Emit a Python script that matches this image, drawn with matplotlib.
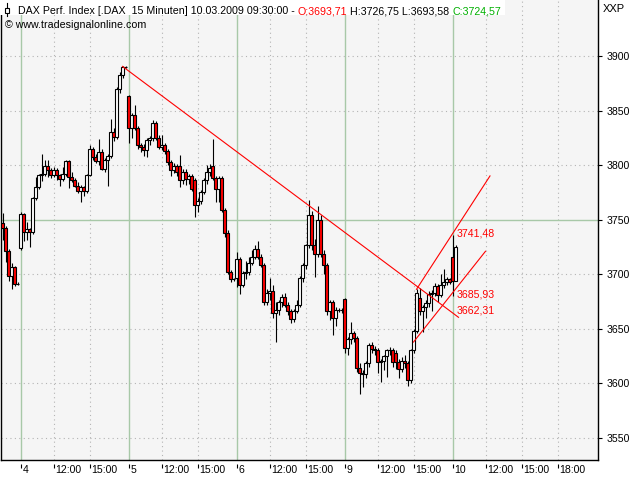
import numpy as np
import matplotlib
matplotlib.use("Agg")
import matplotlib.pyplot as plt
from matplotlib.lines import Line2D
from matplotlib.patches import Rectangle
from matplotlib.text import Annotation
from matplotlib.transforms import blended_transform_factory, offset_copy

plt.rcParams['font.family'] = ['Liberation Sans', 'DejaVu Sans']

# 15 minute candles, 36 slots per trading day, bar 0 = 04.03 09:15
first_bar = -6
opens = [3747, 3742, 3721, 3698, 3706, 3691,
         # day 4
         3724, 3755, 3739, 3741, 3739, 3770, 3780, 3791, 3792, 3799, 3795, 3791,
         3795, 3791, 3787, 3792, 3804, 3789, 3786, 3781, 3776, 3780, 3776, 3791,
         3815, 3807, 3804, 3812, 3796, 3805, 3808, 3830, 3826, 3870, 3883, 3890,
         # day 5
         3863, 3834, 3846, 3834, 3818, 3817, 3814, 3823, 3825, 3839, 3825, 3817,
         3818, 3813, 3803, 3795, 3799, 3799, 3786, 3794, 3787, 3790, 3786, 3763,
         3767, 3775, 3786, 3794, 3799, 3788, 3778, 3788, 3759, 3738, 3702, 3695,
         # day 6
         3696, 3714, 3690, 3701, 3702, 3710, 3716, 3723, 3716, 3708, 3674, 3683,
         3684, 3664, 3667, 3674, 3679, 3672, 3666, 3659, 3666, 3672, 3696, 3708,
         3727, 3754, 3727, 3718, 3750, 3718, 3708, 3666, 3674, 3660, 3667, 3667,
         # day 9
         3677, 3632, 3640, 3646, 3641, 3614, 3609, 3608, 3618, 3635, 3631, 3630,
         3619, 3620, 3625, 3630, 3630, 3628, 3619, 3613, 3620, 3618, 3603, 3630,
         3648, 3678, 3666, 3670, 3673, 3682, 3683, 3689, 3681, 3690, 3693, 3695,
         # day 10
         3716, 3693.71]
highs = [3756, 3744, 3723, 3710, 3707, 3693,
         3757, 3756, 3748, 3742, 3771, 3789, 3792, 3810, 3805, 3805, 3797, 3798,
         3797, 3792, 3798, 3805, 3805, 3794, 3788, 3784, 3782, 3781, 3792, 3818,
         3817, 3810, 3824, 3815, 3806, 3810, 3842, 3834, 3872, 3885, 3891, 3891,
         3864, 3848, 3855, 3836, 3820, 3819, 3825, 3827, 3841, 3840, 3828, 3828,
         3820, 3815, 3805, 3802, 3801, 3809, 3796, 3796, 3792, 3792, 3788, 3770,
         3777, 3788, 3800, 3801, 3824, 3790, 3790, 3790, 3761, 3740, 3704, 3696,
         3720, 3716, 3703, 3712, 3716, 3722, 3727, 3730, 3718, 3710, 3686, 3696,
         3690, 3674, 3676, 3682, 3683, 3674, 3668, 3668, 3676, 3698, 3710, 3728,
         3768, 3758, 3732, 3762, 3754, 3722, 3710, 3676, 3676, 3670, 3669, 3669,
         3678, 3642, 3656, 3648, 3643, 3618, 3612, 3620, 3637, 3638, 3634, 3632,
         3622, 3626, 3631, 3633, 3632, 3630, 3622, 3624, 3626, 3620, 3631, 3650,
         3686, 3687, 3672, 3676, 3684, 3685, 3692, 3691, 3700, 3705, 3697, 3696,
         3736, 3726.75]
lows = [3731, 3711, 3694, 3686, 3689, 3690,
        3722, 3730, 3731, 3725, 3737, 3768, 3778, 3785, 3790, 3789, 3788, 3789,
        3786, 3781, 3785, 3790, 3779, 3784, 3780, 3774, 3766, 3772, 3774, 3790,
        3805, 3802, 3800, 3795, 3794, 3781, 3806, 3822, 3824, 3866, 3880, 3889,
        3820, 3825, 3832, 3815, 3812, 3808, 3807, 3818, 3822, 3823, 3815, 3814,
        3810, 3800, 3790, 3793, 3790, 3780, 3783, 3782, 3783, 3776, 3752, 3757,
        3764, 3773, 3783, 3790, 3786, 3766, 3766, 3757, 3734, 3700, 3693, 3694,
        3688, 3682, 3688, 3695, 3699, 3708, 3714, 3714, 3706, 3672, 3672, 3676,
        3660, 3638, 3662, 3670, 3670, 3662, 3655, 3656, 3664, 3670, 3693, 3705,
        3724, 3722, 3697, 3716, 3716, 3700, 3662, 3658, 3644, 3652, 3665, 3664,
        3628, 3626, 3636, 3638, 3610, 3590, 3596, 3605, 3615, 3628, 3626, 3609,
        3601, 3612, 3606, 3626, 3615, 3613, 3605, 3610, 3614, 3597, 3600, 3628,
        3646, 3662, 3647, 3660, 3670, 3666, 3680, 3674, 3679, 3687, 3690, 3691,
        3680, 3693.58]
closes = [3742, 3721, 3698, 3706, 3691, 3691,
          3755, 3739, 3741, 3739, 3770, 3780, 3791, 3792, 3799, 3795, 3791, 3795,
          3791, 3787, 3792, 3804, 3789, 3786, 3781, 3776, 3780, 3776, 3791, 3815,
          3807, 3804, 3812, 3796, 3805, 3808, 3830, 3826, 3870, 3883, 3890, 3890,
          3834, 3846, 3834, 3818, 3817, 3814, 3823, 3825, 3839, 3825, 3817, 3818,
          3813, 3803, 3795, 3799, 3794, 3786, 3794, 3787, 3790, 3778, 3763, 3767,
          3775, 3786, 3794, 3797, 3788, 3778, 3788, 3759, 3738, 3702, 3695, 3695,
          3714, 3690, 3701, 3702, 3710, 3716, 3723, 3716, 3708, 3674, 3683, 3684,
          3664, 3667, 3674, 3679, 3672, 3666, 3659, 3666, 3672, 3696, 3708, 3727,
          3754, 3727, 3718, 3750, 3718, 3708, 3666, 3674, 3660, 3667, 3667, 3667,
          3632, 3640, 3646, 3641, 3614, 3609, 3608, 3618, 3635, 3631, 3630, 3619,
          3620, 3625, 3630, 3630, 3619, 3619, 3613, 3620, 3618, 3603, 3630, 3648,
          3683, 3666, 3670, 3673, 3682, 3683, 3689, 3681, 3690, 3693, 3695, 3693,
          3693.7, 3724.57]

# time axis labels (bar positions of day starts / hours)
tick_bars = [0, 11, 23, 36, 47, 59, 72, 83, 95, 108, 119, 131, 144, 155, 167, 179]
tick_labels = ['4', '12:00', '15:00', '5', '12:00', '15:00', '6', '12:00', '15:00',
               '9', '12:00', '15:00', '10', '12:00', '15:00', '18:00']
day_bars = [0, 36, 72, 108, 144]
price_ticks = [3550, 3600, 3650, 3700, 3750, 3800, 3850, 3900]

# drawn trendlines (bar, price)
down_x, down_y = [34, 146], [3890.5, 3660.3]
upper_x, upper_y = [132, 156.5], [3686, 3790]
lower_x, lower_y = [131, 155], [3637.6, 3720.9]
line_values = ['3741,48', '3685,93', '3662,31']
line_value_y = [3741.48, 3685.93, 3662.31]

green = '#a8c8a8'
dotc = '#b4b4b4'

fig = plt.figure(figsize=(6.4, 4.8), dpi=100)
ax = fig.add_axes([1 / 640, 20 / 480, 597 / 640, 460 / 480])
ax.set_facecolor('#f5f5f5')
ax.set_xlim(-6.5, 192.5)
ax.set_ylim(3529.4, 3951.4)

# grid
for b in tick_bars:
    if b in day_bars:
        ax.axvline(b, color=green, lw=1.0, zorder=1)
    else:
        ax.axvline(b, color=dotc, lw=0.8, ls=(0, (1, 3)), zorder=1)
for p in price_ticks:
    if p == 3750:
        ax.axhline(p, color=green, lw=1.0, zorder=1)
    else:
        ax.axhline(p, color=dotc, lw=0.8, ls=(0, (1, 3)), zorder=1)

# candles
idx = np.arange(first_bar, first_bar + len(opens))
o = np.array(opens)
c = np.array(closes)
ax.vlines(idx, lows, highs, color='black', lw=0.8, zorder=2)
body_col = ['white' if cc >= oo else '#ff0000' for oo, cc in zip(o, c)]
ax.bar(idx, np.abs(c - o), bottom=np.minimum(o, c), width=0.85,
       color=body_col, edgecolor='black', linewidth=0.8, zorder=3)

# trendlines + their values at the last bar
for xs, ys in [(down_x, down_y), (upper_x, upper_y), (lower_x, lower_y)]:
    ax.plot(xs, ys, color='#ff0000', lw=0.8, zorder=4)
last = idx[-1]
tr = offset_copy(ax.transData, fig=fig, x=1, y=0, units='dots')
for lab, yv, va in zip(line_values, line_value_y, ['top', 'top', 'bottom']):
    ax.text(last, yv, lab, color='#ff0000', fontsize=7.6, va=va, ha='left',
            transform=tr, zorder=5)

# axes frame
ax.spines['top'].set_visible(False)
for s in ['left', 'right', 'bottom']:
    ax.spines[s].set_color('black')
    ax.spines[s].set_linewidth(1.0)
ax.yaxis.tick_right()
ax.set_yticks(price_ticks)
ax.set_yticklabels([str(p) for p in price_ticks])
ax.tick_params(axis='y', length=3, width=0.8, pad=3, labelsize=7.6, colors='black')
ax.set_xticks([])

# time labels below the frame
btr = blended_transform_factory(ax.transData, fig.transFigure)
ax.vlines(tick_bars, 1 - 468 / 480, 1 - 464 / 480, transform=btr, color='black',
          lw=0.8, clip_on=False)
ltr = offset_copy(btr, fig=fig, x=2, y=0, units='dots')
for b, lab in zip(tick_bars, tick_labels):
    ax.text(b, 1 - 465 / 480, lab, transform=ltr, ha='left', va='top', fontsize=7.6,
            clip_on=False)

# header band with the little candle icon
fig.add_artist(Rectangle((0, 1 - 15 / 480), 505 / 640, 15 / 480, transform=fig.transFigure,
                         facecolor='white', edgecolor='none', zorder=5))
fig.add_artist(Line2D([6.5 / 640] * 2, [1 - 3 / 480, 1 - 16 / 480], transform=fig.transFigure,
                      color='black', lw=0.8, zorder=6))
fig.add_artist(Rectangle((4.5 / 640, 1 - 12.5 / 480), 4 / 640, 5 / 480, transform=fig.transFigure,
                         facecolor='white', edgecolor='black', lw=0.8, zorder=7))

parts = [("DAX Perf. Index [.DAX  15 Minuten] 10.03.2009 09:30:00 - ", 'black'),
         ("O:3693,71", '#ff0000'),
         (" H:3726,75 L:3693,58 ", 'black'),
         ("C:3724,57", '#00b000')]
anchor = fig.text(18 / 640, 1 - 14 / 480, parts[0][0], color=parts[0][1], fontsize=7.7,
                  va='baseline', ha='left', zorder=8)
for s, col in parts[1:]:
    anchor = fig.add_artist(Annotation(s, xy=(1, 0), xycoords=anchor, color=col,
                                       fontsize=7.7, va='bottom', ha='left', zorder=8))

fig.text(5 / 640, 1 - 28 / 480, "\u00a9 www.tradesignalonline.com", fontsize=7.7,
         va='baseline', ha='left', zorder=8)
fig.text(603 / 640, 1 - 12 / 480, "XXP", fontsize=8, va='baseline', ha='left')

fig.savefig('out.png', dpi=100)
